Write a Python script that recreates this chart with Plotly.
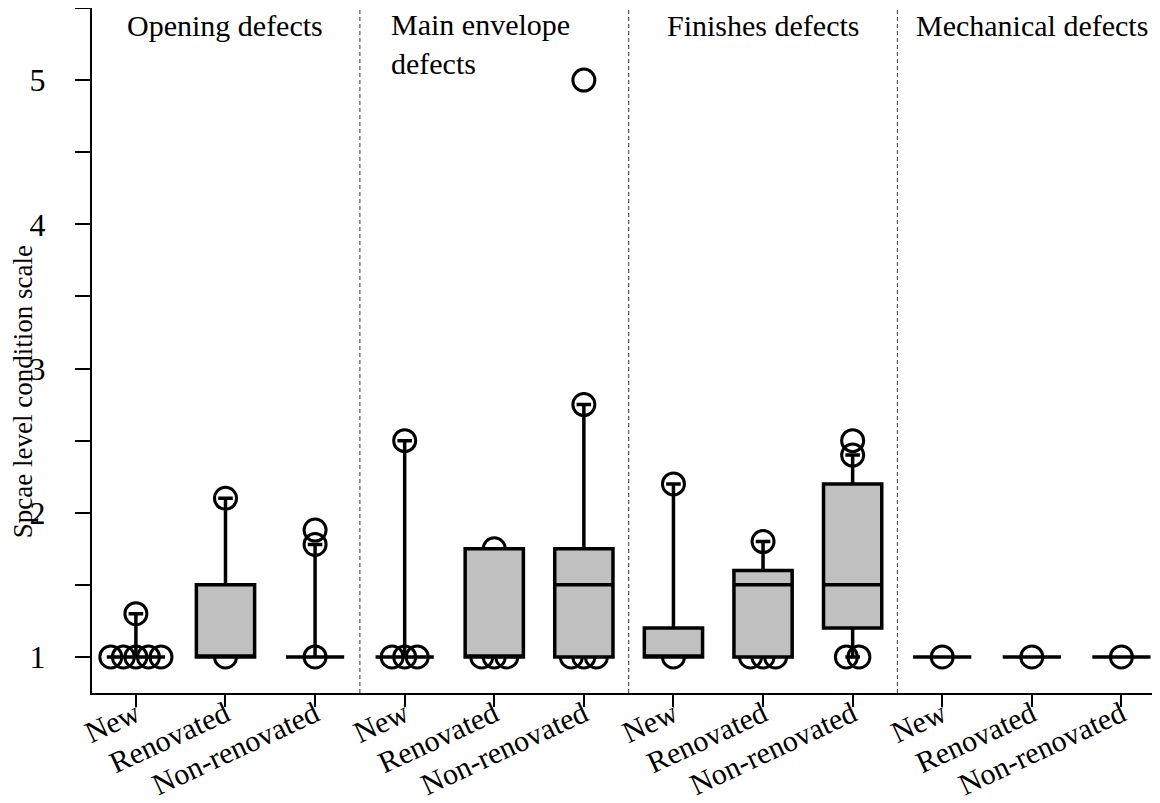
import plotly.graph_objects as go

# ---------------- data ----------------
groups = ["Opening defects", "Main envelope<br>defects", "Finishes defects", "Mechanical defects"]
conditions = ["New", "Renovated", "Non-renovated"]

# box statistics, one per (group, condition) in order
q1     = [1, 1,    1,    1, 1,    1,    1,   1,   1.2, 1, 1, 1]
median = [1, 1,    1,    1, 1,    1.5,  1,   1.5, 1.5, 1, 1, 1]
q3     = [1, 1.5,  1,    1, 1.75, 1.75, 1.2, 1.6, 2.2, 1, 1, 1]
lower  = [1, 1,    1,    1, 1,    1,    1,   1,   1,   1, 1, 1]
upper  = [1.3, 2.1, 1.78, 2.5, 1.75, 2.75, 2.2, 1.8, 2.4, 1, 1, 1]

# observed points (points inside the boxes are hidden by the box fill)
points = [
    [1, 1, 1, 1, 1, 1.3],
    [1, 2.1],
    [1, 1.78, 1.88],
    [1, 1, 1, 2.5],
    [1, 1, 1, 1.75],
    [1, 1, 1, 2.75, 5.0],
    [1, 2.2],
    [1, 1, 1, 1.8],
    [1, 1, 2.4, 2.5],
    [1],
    [1],
    [1],
]

# ---------------- layout helpers ----------------
FONT = "Liberation Serif"
n_cond = len(conditions)
n_box = len(groups) * n_cond
positions = list(range(n_box))
tick_text = conditions * len(groups)
BOX_W = 0.65
STEP = 0.14  # spacing between repeated (identical) points

pt_x, pt_y = [], []
for pos, vals in zip(positions, points):
    counts = {}
    for v in vals:
        counts[v] = counts.get(v, 0) + 1
    for v, n in counts.items():
        for k in range(n):
            pt_x.append(pos + (k - (n - 1) / 2) * STEP)
            pt_y.append(v)

fig = go.Figure()

# points first (drawn below the opaque boxes)
fig.add_trace(go.Box(
    x=pt_x, y=pt_y, boxpoints="all", jitter=0, pointpos=0, width=0.02,
    fillcolor="rgba(0,0,0,0)", line=dict(width=0, color="rgba(0,0,0,0)"),
    marker=dict(symbol="circle-open", size=22, color="black",
                line=dict(width=3, color="black")),
    showlegend=False, hoverinfo="y",
))

fig.add_trace(go.Box(
    x=positions, q1=q1, median=median, q3=q3,
    lowerfence=lower, upperfence=upper,
    width=BOX_W, whiskerwidth=0.25, boxpoints=False,
    fillcolor="#c0c0c0", line=dict(color="black", width=3.5),
    showlegend=False,
))

# group separators
shapes = []
for g in range(1, len(groups)):
    xs = g * n_cond - 0.5
    shapes.append(dict(type="line", xref="x", yref="paper", x0=xs, x1=xs, y0=0, y1=1,
                       line=dict(color="#555555", width=1.2, dash="4px,3px")))

annotations = []
for g, name in enumerate(groups):
    center = g * n_cond + (n_cond - 1) / 2
    if "<br>" in name:
        annotations.append(dict(text=name, x=g * n_cond - 0.5 + 0.33, y=0.947,
                                xref="x", yref="paper", xanchor="left", yanchor="middle",
                                align="left", showarrow=False,
                                font=dict(family=FONT, size=30, color="black")))
    else:
        annotations.append(dict(text=name, x=center, y=0.975,
                                xref="x", yref="paper", xanchor="center", yanchor="middle",
                                showarrow=False,
                                font=dict(family=FONT, size=30, color="black")))

annotations.append(dict(text="Spcae level condition scale", textangle=-90,
                        x=-0.0645, y=0.44, xref="paper", yref="paper",
                        xanchor="center", yanchor="middle", showarrow=False,
                        font=dict(family=FONT, size=27, color="black")))

fig.update_layout(
    width=1160, height=803,
    margin=dict(l=84, r=0, t=0, b=118),
    paper_bgcolor="white", plot_bgcolor="white",
    boxmode="overlay",
    shapes=shapes, annotations=annotations,
    showlegend=False,
    xaxis=dict(range=[-0.49, 11.52], tickmode="array", tickvals=positions,
               ticktext=tick_text, tickangle=-25, ticks="outside", ticklen=12,
               tickwidth=2, tickcolor="black", showline=True, linecolor="black",
               linewidth=2, showgrid=False, zeroline=False, automargin=False,
               ticklabelstandoff=-22,
               tickfont=dict(family=FONT, size=30, color="black")),
    yaxis=dict(range=[0.75, 5.5], tickmode="array", tickvals=[1, 2, 3, 4, 5],
               ticks="outside", ticklen=15, tickwidth=2, tickcolor="black",
               minor=dict(tickmode="array", tickvals=[1.5, 2.5, 3.5, 4.5, 5.5],
                          ticks="outside", ticklen=15, tickwidth=2, tickcolor="black"),
               showline=True, linecolor="black", linewidth=2, showgrid=False,
               zeroline=False, automargin=False, ticklabelstandoff=23,
               tickfont=dict(family=FONT, size=32, color="black")),
)

fig.write_html("out.html")
